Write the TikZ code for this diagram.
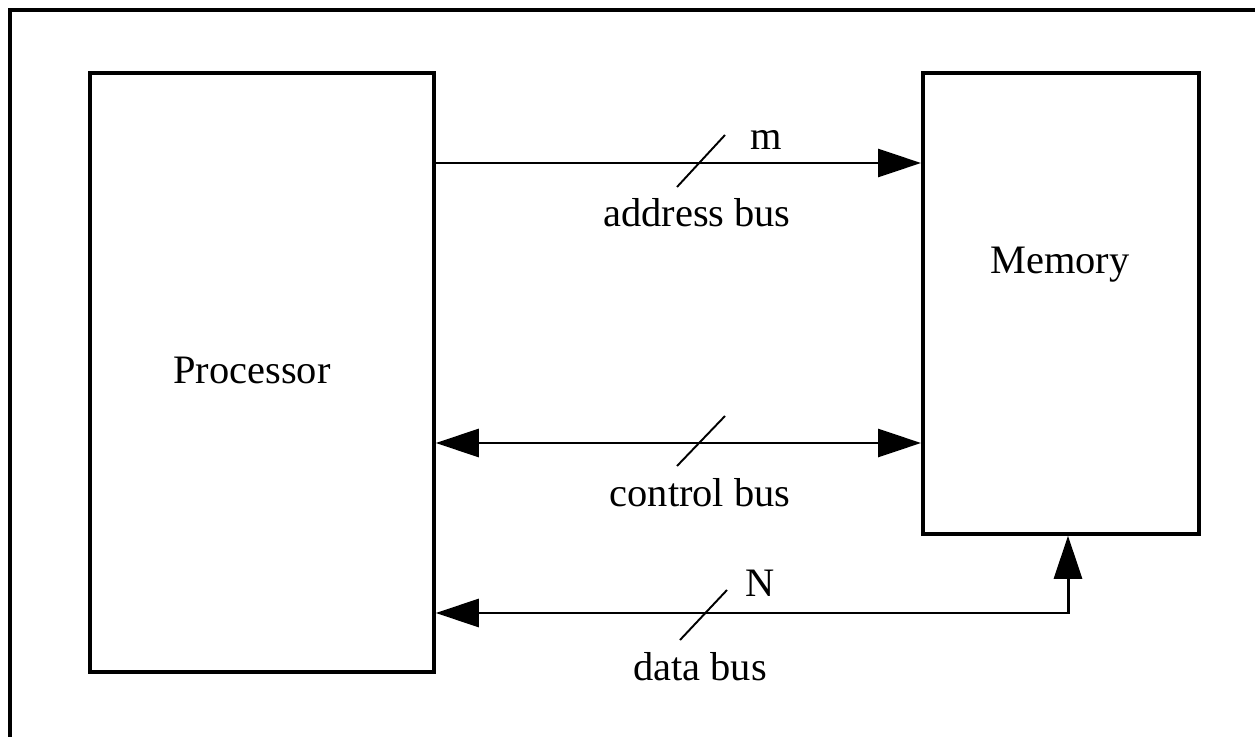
\documentclass[tikz,border=0pt]{standalone}
\usepackage{fontspec}
\setmainfont{Liberation Serif}
\usepackage{tikz}
\usetikzlibrary{arrows.meta}
\tikzstyle{unit} = [draw, line width=2.2pt, inner sep=0pt, anchor=north west]
\tikzstyle{lbl} = [font=\fontsize{23}{27}\selectfont, inner sep=0pt]
\tikzstyle{bus} = [line width=1.7pt]
\tikzstyle{width mark} = [line width=1.1pt]
\tikzstyle{oneway} = [-{Triangle[length=0.86cm,width=0.56cm]}]
\tikzstyle{twoway} = [{Triangle[length=0.86cm,width=0.56cm]}-{Triangle[length=0.86cm,width=0.56cm]}]

\begin{document}
\begin{tikzpicture}[x=0.02cm, y=-0.02cm]
	\useasboundingbox (0,0) rectangle (1255,737);
	\draw[line width=2.4pt] (10,737) -- (10,10) -- (1255,10);

	\node[unit, minimum width=6.88cm, minimum height=11.98cm](proc) at (88,71){};
	\node[unit, minimum width=5.52cm, minimum height=9.22cm](mem) at (921,71){};
	\node[lbl](proctext) at (252,370){Processor};
	\node[lbl](memtext) at (1060,265){Memory};

	\draw[bus, oneway](proc.east |- 0,163) -- (mem.west |- 0,163);
	\draw[width mark](677,187) -- (725,135);
	\node[lbl](m) at (766,140){m};
	\node[lbl](addr) at (697,213){address bus};

	\draw[bus, twoway](proc.east |- 0,443) -- (mem.west |- 0,443);
	\draw[width mark](677,466) -- (725,416);
	\node[lbl](ctrl) at (700,493){control bus};

	\draw[bus, twoway](proc.east |- 0,613) -| (mem.south -| 1068,0);
	\draw[width mark](680,640) -- (727,590);
	\node[lbl](n) at (760,583){N};
	\node[lbl](data) at (700,667){data bus};
\end{tikzpicture}
\end{document}
